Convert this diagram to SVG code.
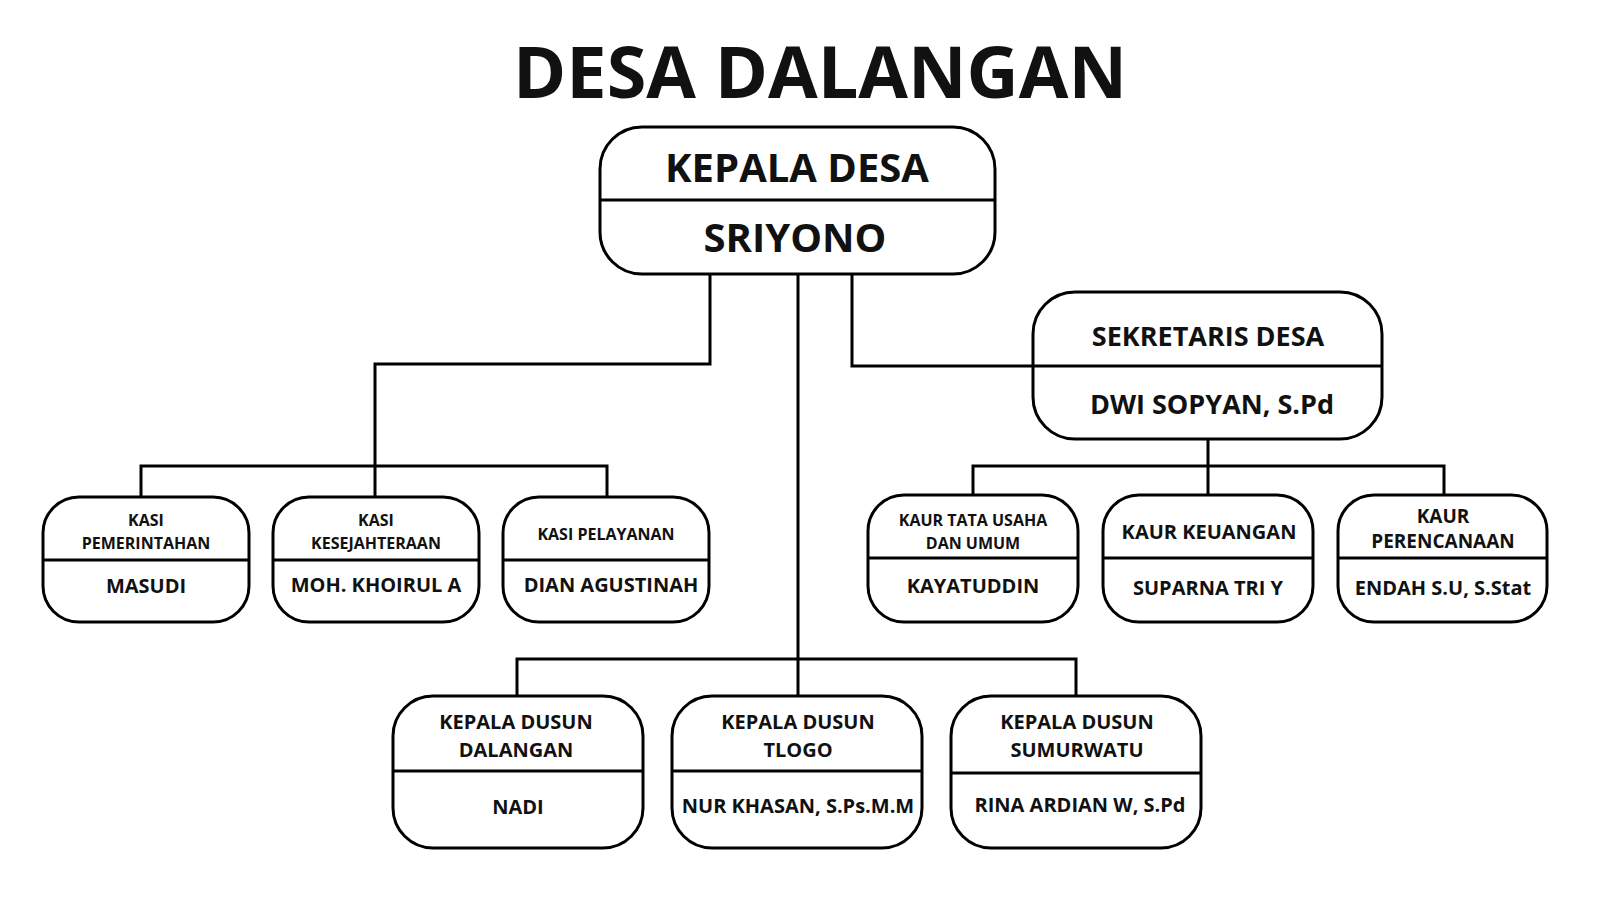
<svg xmlns="http://www.w3.org/2000/svg" width="1600" height="900" viewBox="0 0 1600 900">
<style>
.b{fill:#fff;stroke:#000;stroke-width:3}
.d{stroke:#000;stroke-width:3}
.c{fill:none;stroke:#000;stroke-width:3}
text{font-family:"Open Sans","Liberation Sans",sans-serif;font-weight:700;fill:#111;text-anchor:middle}
.s{font-size:16px}.m{font-size:20px}.l{font-size:27px}.xl{font-size:40px}
</style>
<rect width="1600" height="900" fill="#fff"/>
<text x="820" y="98" style="font-size:72px">DESA DALANGAN</text>
<g id="connectors">
<path class="c" d="M710 274V364H375V466M141 497V466H607V497M375 466V497"/>
<path class="c" d="M798 274V696M517 696V659H1076V696"/>
<path class="c" d="M852 274V366H1033"/>
<path class="c" d="M1208 439V466M973 495V466H1444V495M1208 466V495"/>
</g>
<g id="kepala"><rect class="b" x="600" y="127" width="395" height="147" rx="42"/><line class="d" x1="600" y1="200" x2="995" y2="200"/><text class="xl" x="797" y="182">KEPALA DESA</text><text class="xl" x="795" y="252">SRIYONO</text></g>
<g id="sekretaris"><rect class="b" x="1033" y="292" width="349" height="147" rx="42"/><line class="d" x1="1033" y1="366" x2="1382" y2="366"/><text class="l" x="1208" y="346">SEKRETARIS DESA</text><text class="l" x="1212" y="414">DWI SOPYAN, S.Pd</text></g>
<g id="kasi1"><rect class="b" x="43" y="497" width="206" height="125" rx="36"/><line class="d" x1="43" y1="560" x2="249" y2="560"/><text class="s" x="146" y="526">KASI</text><text class="s" x="146" y="549">PEMERINTAHAN</text><text class="m" x="146" y="593">MASUDI</text></g>
<g id="kasi2"><rect class="b" x="273" y="497" width="206" height="125" rx="36"/><line class="d" x1="273" y1="560" x2="479" y2="560"/><text class="s" x="376" y="526">KASI</text><text class="s" x="376" y="549">KESEJAHTERAAN</text><text class="m" x="376" y="592">MOH. KHOIRUL A</text></g>
<g id="kasi3"><rect class="b" x="503" y="497" width="206" height="125" rx="36"/><line class="d" x1="503" y1="560" x2="709" y2="560"/><text class="s" x="606" y="540">KASI PELAYANAN</text><text class="m" x="611" y="592">DIAN AGUSTINAH</text></g>
<g id="kaur1"><rect class="b" x="868" y="495" width="210" height="127" rx="36"/><line class="d" x1="868" y1="558" x2="1078" y2="558"/><text class="s" x="973" y="526">KAUR TATA USAHA</text><text class="s" x="973" y="549">DAN UMUM</text><text class="m" x="973" y="593">KAYATUDDIN</text></g>
<g id="kaur2"><rect class="b" x="1103" y="495" width="210" height="127" rx="36"/><line class="d" x1="1103" y1="558" x2="1313" y2="558"/><text class="m" x="1209" y="539">KAUR KEUANGAN</text><text class="m" x="1208" y="595">SUPARNA TRI Y</text></g>
<g id="kaur3"><rect class="b" x="1338" y="495" width="209" height="127" rx="36"/><line class="d" x1="1338" y1="558" x2="1547" y2="558"/><text x="1443" y="523" style="font-size:19px">KAUR</text><text x="1443" y="548" style="font-size:19px">PERENCANAAN</text><text class="m" x="1443" y="595">ENDAH S.U, S.Stat</text></g>
<g id="dusun1"><rect class="b" x="393" y="696" width="250" height="152" rx="40"/><line class="d" x1="393" y1="771" x2="643" y2="771"/><text class="m" x="516" y="729">KEPALA DUSUN</text><text class="m" x="516" y="757">DALANGAN</text><text class="m" x="518" y="814">NADI</text></g>
<g id="dusun2"><rect class="b" x="672" y="696" width="250" height="152" rx="40"/><line class="d" x1="672" y1="771" x2="922" y2="771"/><text class="m" x="798" y="729">KEPALA DUSUN</text><text class="m" x="798" y="757">TLOGO</text><text class="m" x="798" y="813">NUR KHASAN, S.Ps.M.M</text></g>
<g id="dusun3"><rect class="b" x="951" y="696" width="250" height="152" rx="40"/><line class="d" x1="951" y1="773" x2="1201" y2="773"/><text class="m" x="1077" y="729">KEPALA DUSUN</text><text class="m" x="1077" y="757">SUMURWATU</text><text class="m" x="1080" y="812">RINA ARDIAN W, S.Pd</text></g>
</svg>
